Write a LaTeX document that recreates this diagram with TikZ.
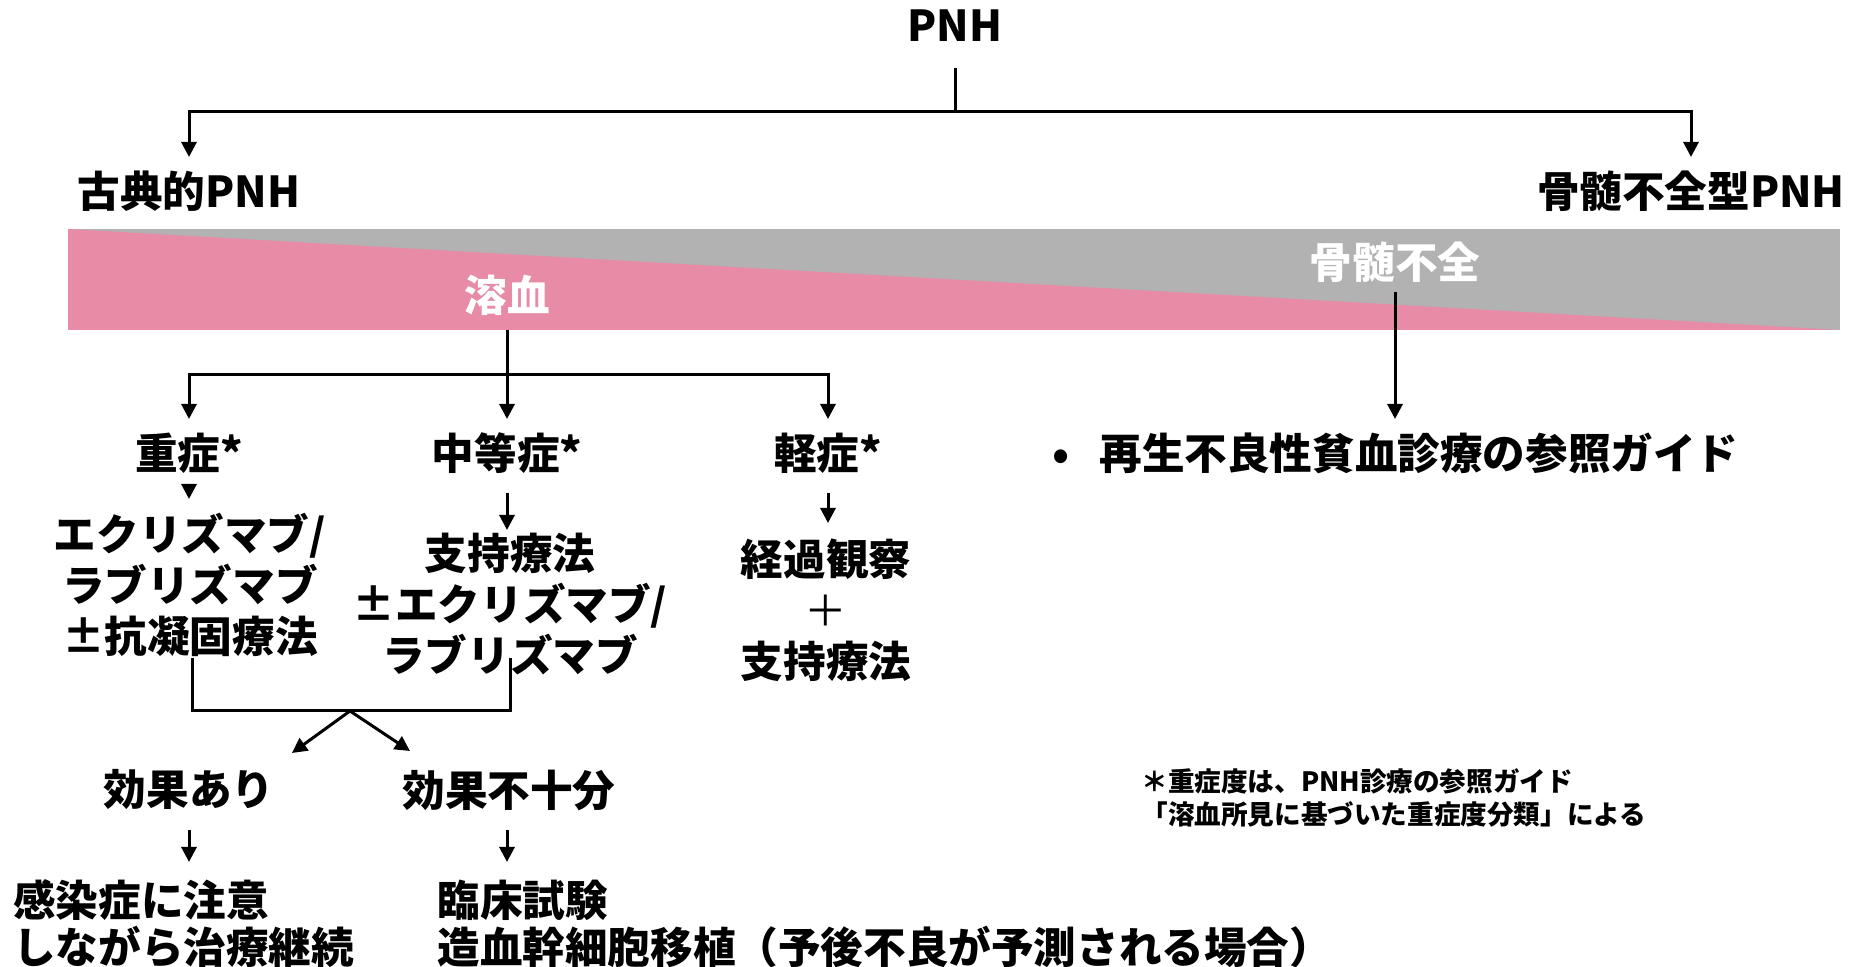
\documentclass[tikz,border=0pt]{standalone}
\usepackage{fontspec}
\setmainfont{Noto Sans CJK JP}
\usetikzlibrary{arrows.meta,calc}
\definecolor{pinkband}{HTML}{E78BA6}
\definecolor{grayband}{HTML}{B2B2B2}
\begin{document}
\begin{tikzpicture}[x=0.5pt,y=-0.5pt,
  lbl/.style={font=\bfseries\fontsize{21.3}{25.5}\selectfont, inner sep=0pt, align=center},
  lblleft/.style={font=\bfseries\fontsize{21.3}{23.5}\selectfont, inner sep=0pt, align=left, anchor=west},
  notefont/.style={font=\bfseries\fontsize{13.3}{16.5}\selectfont, inner sep=0pt, align=left, anchor=west},
  conn/.style={line width=1.5pt},
  arr/.style={conn, -{Triangle[length=7.5pt,width=7.5pt]}}]
\useasboundingbox (0,0) rectangle (1849,967);
% band
\fill[grayband] (68,229) rectangle (1840,330);
\fill[pinkband] (68,229) -- (1840,330) -- (68,330) -- cycle;
% nodes
\node[lbl] (pnh) at (955,26) {PNH};
\node[lbl] (classic) at (189,191) {古典的PNH};
\node[lbl] (bmf) at (1691,191) {骨髄不全型PNH};
\node[lbl, text=white] (hemo) at (507,295) {溶血};
\node[lbl, text=white] (bmflab) at (1395,262) {骨髄不全};
\node[lbl] (sev) at (189,453) {重症*};
\node[lbl] (mod) at (507,453) {中等症*};
\node[lbl] (mild) at (828,453) {軽症*};
\node[lbl, anchor=west] (guide) at (1052,453) {•\hspace{15pt}再生不良性貧血診療の参照ガイド};
\node[lbl] (sevtx) at (190,585) {エクリズマブ/\\ラブリズマブ\\±抗凝固療法};
\node[lbl] (modtx) at (510,604) {支持療法\\±エクリズマブ/\\ラブリズマブ};
\node[lbl] (mildtx) at (826,610) {経過観察\\{\mdseries ＋}\\支持療法};
\node[lbl] (eff1) at (189,790) {効果あり};
\node[lbl] (eff2) at (509,790) {効果不十分};
\node[lblleft] (res1) at (13,923.5) {感染症に注意\\しながら治療継続};
\node[lblleft] (res2) at (437,923.5) {臨床試験\\造血幹細胞移植（予後不良が予測される場合）};
\node[notefont] (note) at (1141,797.5) {＊重症度は、PNH診療の参照ガイド\\「溶血所見に基づいた重症度分類」による};
% junctions
\coordinate (j0) at (955,112);
\coordinate (j1) at (507,375);
\coordinate (bl) at (192,711);
\coordinate (br) at (510,711);
\coordinate (apex) at (350,711);
% connectors
\draw[conn] ($(pnh)+(0,42)$) -- (j0);
\draw[arr] (j0) -| ($(classic)+(0,-34)$);
\draw[arr] (j0) -| ($(bmf)+(0,-34)$);
\draw[conn] ($(hemo)+(0,35)$) -- (j1);
\draw[arr] (j1) -| ($(sev)+(0,-34)$);
\draw[arr] (j1) -- ($(mod)+(0,-34)$);
\draw[arr] (j1) -| ($(mild)+(0,-34)$);
\draw[arr] ($(bmflab)+(0,30)$) -- ($(bmflab |- guide)+(0,-34)$);
\draw[arr] ($(sev)+(0,31)$) -- ($(sev)+(0,46)$);
\draw[arr] ($(mod)+(0,40)$) -- ($(mod)+(0,77)$);
\draw[arr] ($(mild)+(0,40)$) -- ($(mild)+(0,70)$);
\draw[conn] ($(sevtx)+(2,73)$) -- (bl) -- (br) -- ($(modtx)+(0,54)$);
\draw[arr] (apex) -- ($(eff1)+(103,-37)$);
\draw[arr] (apex) -- ($(eff2)+(-99,-39)$);
\draw[arr] ($(eff1)+(0,40)$) -- ($(eff1)+(0,72)$);
\draw[arr] ($(eff2)+(-2,40)$) -- ($(eff2)+(-2,72)$);
\end{tikzpicture}
\end{document}
